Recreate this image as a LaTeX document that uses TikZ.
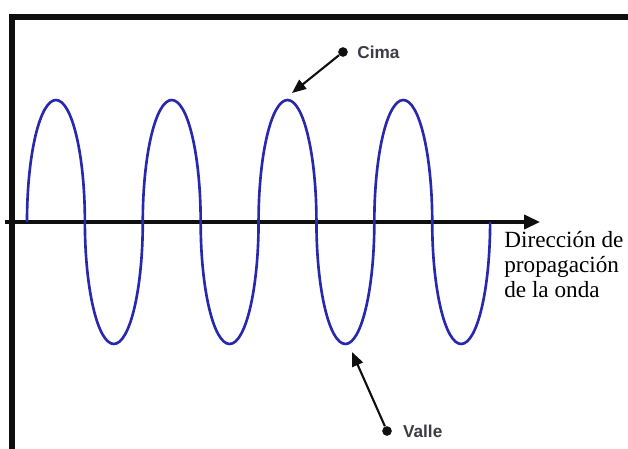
\documentclass[tikz,border=0pt]{standalone}
\usepackage{fontspec}
\setmainfont{Liberation Serif}
\setsansfont{Liberation Sans}
\usetikzlibrary{arrows.meta,positioning}
\definecolor{ink}{RGB}{15,15,15}
\definecolor{wavecol}{RGB}{40,40,175}
\definecolor{tagcol}{RGB}{60,60,70}

\begin{document}
\begin{tikzpicture}[
    x=0.02cm, y=-0.02cm,
    boxline/.style={line width=3.2pt, ink},
    axis/.style={line width=1.8pt, ink, -{Triangle[length=9pt,width=8pt]}},
    wave/.style={line width=1.5pt, wavecol},
    dot/.style={circle, fill=ink, inner sep=0pt, minimum size=5.5pt},
    pointer/.style={line width=1.2pt, ink, -{Triangle[length=8pt,width=6.5pt]}},
    tag/.style={font=\sffamily\bfseries\fontsize{9.8}{11}\selectfont, text=tagcol, inner sep=0pt},
    desc/.style={font=\fontsize{13.2}{14.3}\selectfont, align=left, inner sep=0pt}
]
\useasboundingbox[fill=white] (0,0) rectangle (628,449);

% Frame
\draw[boxline] (12,449) -- (12,17) -- (628,17);

% Axis
\coordinate (ax0) at (5,222);
\coordinate (ax1) at (540,222);
\draw[axis] (ax0) -- (ax1);

% Wave
\coordinate (w0) at (27,222);
\draw[wave] (w0) \foreach \i in {1,...,4}{
    arc[start angle=180, end angle=0, x radius=0.579cm, y radius=2.44cm]
    arc[start angle=180, end angle=360, x radius=0.579cm, y radius=2.44cm]};

% Crest
\node[dot] (cima) at (343,52) {};
\node[tag, right=5pt of cima] (cimatxt) {Cima};
\coordinate (crest) at (292,93);
\draw[pointer] (cima) -- (crest);

% Trough
\node[dot] (valle) at (387,431) {};
\node[tag, right=6pt of valle] (valletxt) {Valle};
\coordinate (trough) at (352,352);
\draw[pointer] (valle) -- (trough);

% Direction
\node[desc, anchor=north west] (dir) at (504,231) {Dirección de\\propagación\\de la onda};
\end{tikzpicture}
\end{document}
